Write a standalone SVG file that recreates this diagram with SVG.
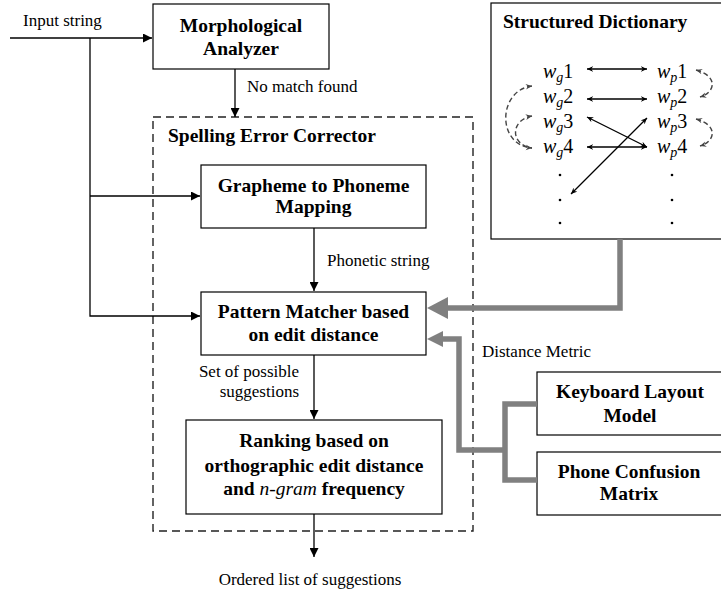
<svg xmlns="http://www.w3.org/2000/svg" width="721" height="592" viewBox="0 0 721 592">
<style>
.box{fill:#fff;stroke:#000;stroke-width:1.2}
.bl{font-family:"Liberation Serif",serif;font-weight:bold;font-size:19.5px;fill:#000;text-anchor:middle}
.lb{font-family:"Liberation Serif",serif;font-size:17px;fill:#000}
.ln{stroke:#000;stroke-width:1.3;fill:none}
.gr{stroke:#808080;stroke-width:5.5;fill:none;stroke-linejoin:miter}
.dsh{stroke:#444;stroke-width:1.4;fill:none;stroke-dasharray:5 3}
.w{font-family:"Liberation Serif",serif;font-size:20px;fill:#000}
</style>
<defs>
<marker id="ah" viewBox="0 0 10 10" refX="10" refY="5" markerWidth="9" markerHeight="9" markerUnits="userSpaceOnUse" orient="auto"><path d="M0,0 L10,5 L0,10 z" fill="#000"/></marker>
<marker id="dh" viewBox="0 0 10 10" refX="9" refY="5" markerWidth="7" markerHeight="7" markerUnits="userSpaceOnUse" orient="auto-start-reverse"><path d="M0,1 L9,5 L0,9 L3,5 z" fill="#000"/></marker>
<marker id="sh" viewBox="0 0 10 10" refX="9" refY="5" markerWidth="7" markerHeight="7" markerUnits="userSpaceOnUse" orient="auto-start-reverse"><path d="M0,1 L9,5 L0,9 L3,5 z" fill="#444"/></marker>
</defs>
<rect width="721" height="592" fill="#fff"/>

<g id="corrector">
<rect x="153" y="117" width="320" height="414" fill="none" stroke="#222" stroke-width="1.4" stroke-dasharray="8 5"/>
<text x="168" y="142" class="bl" style="text-anchor:start">Spelling Error Corrector</text>
</g>

<g id="morph">
<rect class="box" x="153" y="4" width="176" height="65"/>
<text class="bl" x="241" y="32">Morphological</text>
<text class="bl" x="241" y="55">Analyzer</text>
</g>

<g id="g2p">
<rect class="box" x="201" y="165" width="225" height="63"/>
<text class="bl" x="313.5" y="192">Grapheme to Phoneme</text>
<text class="bl" x="313.5" y="213">Mapping</text>
</g>

<g id="matcher">
<rect class="box" x="201" y="292" width="225" height="63"/>
<text class="bl" x="313.5" y="318">Pattern Matcher based</text>
<text class="bl" x="313.5" y="341">on edit distance</text>
</g>

<g id="ranking">
<rect class="box" x="186" y="420" width="256" height="94"/>
<text class="bl" x="314" y="447">Ranking based on</text>
<text class="bl" x="314" y="472">orthographic edit distance</text>
<text class="bl" x="314" y="495">and <tspan font-style="italic" font-weight="normal">n-gram</tspan> frequency</text>
</g>

<g id="keyboard">
<rect class="box" x="537" y="372" width="190" height="63"/>
<text class="bl" x="630" y="398">Keyboard Layout</text>
<text class="bl" x="630" y="422">Model</text>
</g>

<g id="phone">
<rect class="box" x="537" y="452" width="190" height="63"/>
<text class="bl" x="629" y="478">Phone Confusion</text>
<text class="bl" x="629" y="500">Matrix</text>
</g>

<g id="dictionary">
<rect class="box" x="491" y="3" width="232" height="236"/>
<text class="bl" x="503" y="28" style="text-anchor:start">Structured Dictionary</text>
<text class="w" x="543" y="78"><tspan font-style="italic">w</tspan><tspan font-style="italic" font-size="14" dy="4">g</tspan><tspan dy="-4">1</tspan></text>
<text class="w" x="543" y="103"><tspan font-style="italic">w</tspan><tspan font-style="italic" font-size="14" dy="4">g</tspan><tspan dy="-4">2</tspan></text>
<text class="w" x="543" y="128"><tspan font-style="italic">w</tspan><tspan font-style="italic" font-size="14" dy="4">g</tspan><tspan dy="-4">3</tspan></text>
<text class="w" x="543" y="153"><tspan font-style="italic">w</tspan><tspan font-style="italic" font-size="14" dy="4">g</tspan><tspan dy="-4">4</tspan></text>
<text class="w" x="657" y="78"><tspan font-style="italic">w</tspan><tspan font-style="italic" font-size="14" dy="4">p</tspan><tspan dy="-4">1</tspan></text>
<text class="w" x="657" y="103"><tspan font-style="italic">w</tspan><tspan font-style="italic" font-size="14" dy="4">p</tspan><tspan dy="-4">2</tspan></text>
<text class="w" x="657" y="128"><tspan font-style="italic">w</tspan><tspan font-style="italic" font-size="14" dy="4">p</tspan><tspan dy="-4">3</tspan></text>
<text class="w" x="657" y="153"><tspan font-style="italic">w</tspan><tspan font-style="italic" font-size="14" dy="4">p</tspan><tspan dy="-4">4</tspan></text>
<g fill="#000">
<circle cx="560" cy="175" r="1.3"/><circle cx="560" cy="200" r="1.3"/><circle cx="560" cy="223" r="1.3"/>
<circle cx="672" cy="175" r="1.3"/><circle cx="672" cy="200" r="1.3"/><circle cx="672" cy="223" r="1.3"/>
</g>
<g stroke="#000" stroke-width="1.3" fill="none">
<line x1="587" y1="69" x2="647" y2="69" marker-start="url(#dh)" marker-end="url(#dh)"/>
<line x1="587" y1="99" x2="647" y2="99" marker-start="url(#dh)" marker-end="url(#dh)"/>
<line x1="587" y1="147" x2="647" y2="147" marker-start="url(#dh)" marker-end="url(#dh)"/>
<line x1="587" y1="117" x2="647" y2="147" marker-start="url(#dh)" marker-end="url(#dh)"/>
<line x1="647" y1="118" x2="571" y2="194" marker-start="url(#dh)" marker-end="url(#dh)"/>
</g>
<path class="dsh" d="M532,86 C498,90 496,145 532,148" marker-start="url(#sh)" marker-end="url(#sh)"/>
<path class="dsh" d="M532,116 C510,120 510,145 532,148" marker-start="url(#sh)"/>
<path class="dsh" d="M696,70 C718,76 716,92 700,97" marker-start="url(#sh)" marker-end="url(#sh)"/>
<path class="dsh" d="M696,119 C718,125 716,141 700,146" marker-start="url(#sh)" marker-end="url(#sh)"/>
</g>

<g id="connectors">
<polyline class="ln" points="10,38 152,38" marker-end="url(#ah)"/>
<polyline class="ln" points="90,38 90,316 200,316" marker-end="url(#ah)"/>
<polyline class="ln" points="90,196 200,196" marker-end="url(#ah)"/>
<line class="ln" x1="235" y1="69" x2="235" y2="117" marker-end="url(#ah)"/>
<line class="ln" x1="314" y1="228" x2="314" y2="291" marker-end="url(#ah)"/>
<line class="ln" x1="314" y1="355" x2="314" y2="419" marker-end="url(#ah)"/>
<line class="ln" x1="314" y1="514" x2="314" y2="557" marker-end="url(#ah)"/>
<polyline class="gr" points="620,239 620,308 446,308"/>
<polygon points="427,308 448,297 448,319" fill="#808080"/>
<polyline class="gr" points="537,404 505,404 505,480 537,480"/>
<polyline class="gr" points="505,450 459,450 459,339 442,339"/>
<polygon points="427,339 443,331 443,347" fill="#808080"/>
</g>

<g id="labels">
<text class="lb" x="23" y="26">Input string</text>
<text class="lb" x="247" y="92">No match found</text>
<text class="lb" x="327" y="266">Phonetic string</text>
<text class="lb" x="299" y="377" text-anchor="end">Set of possible</text>
<text class="lb" x="299" y="397" text-anchor="end">suggestions</text>
<text class="lb" x="310" y="585" text-anchor="middle">Ordered list of suggestions</text>
<text class="lb" x="482" y="357">Distance Metric</text>
</g>
</svg>
